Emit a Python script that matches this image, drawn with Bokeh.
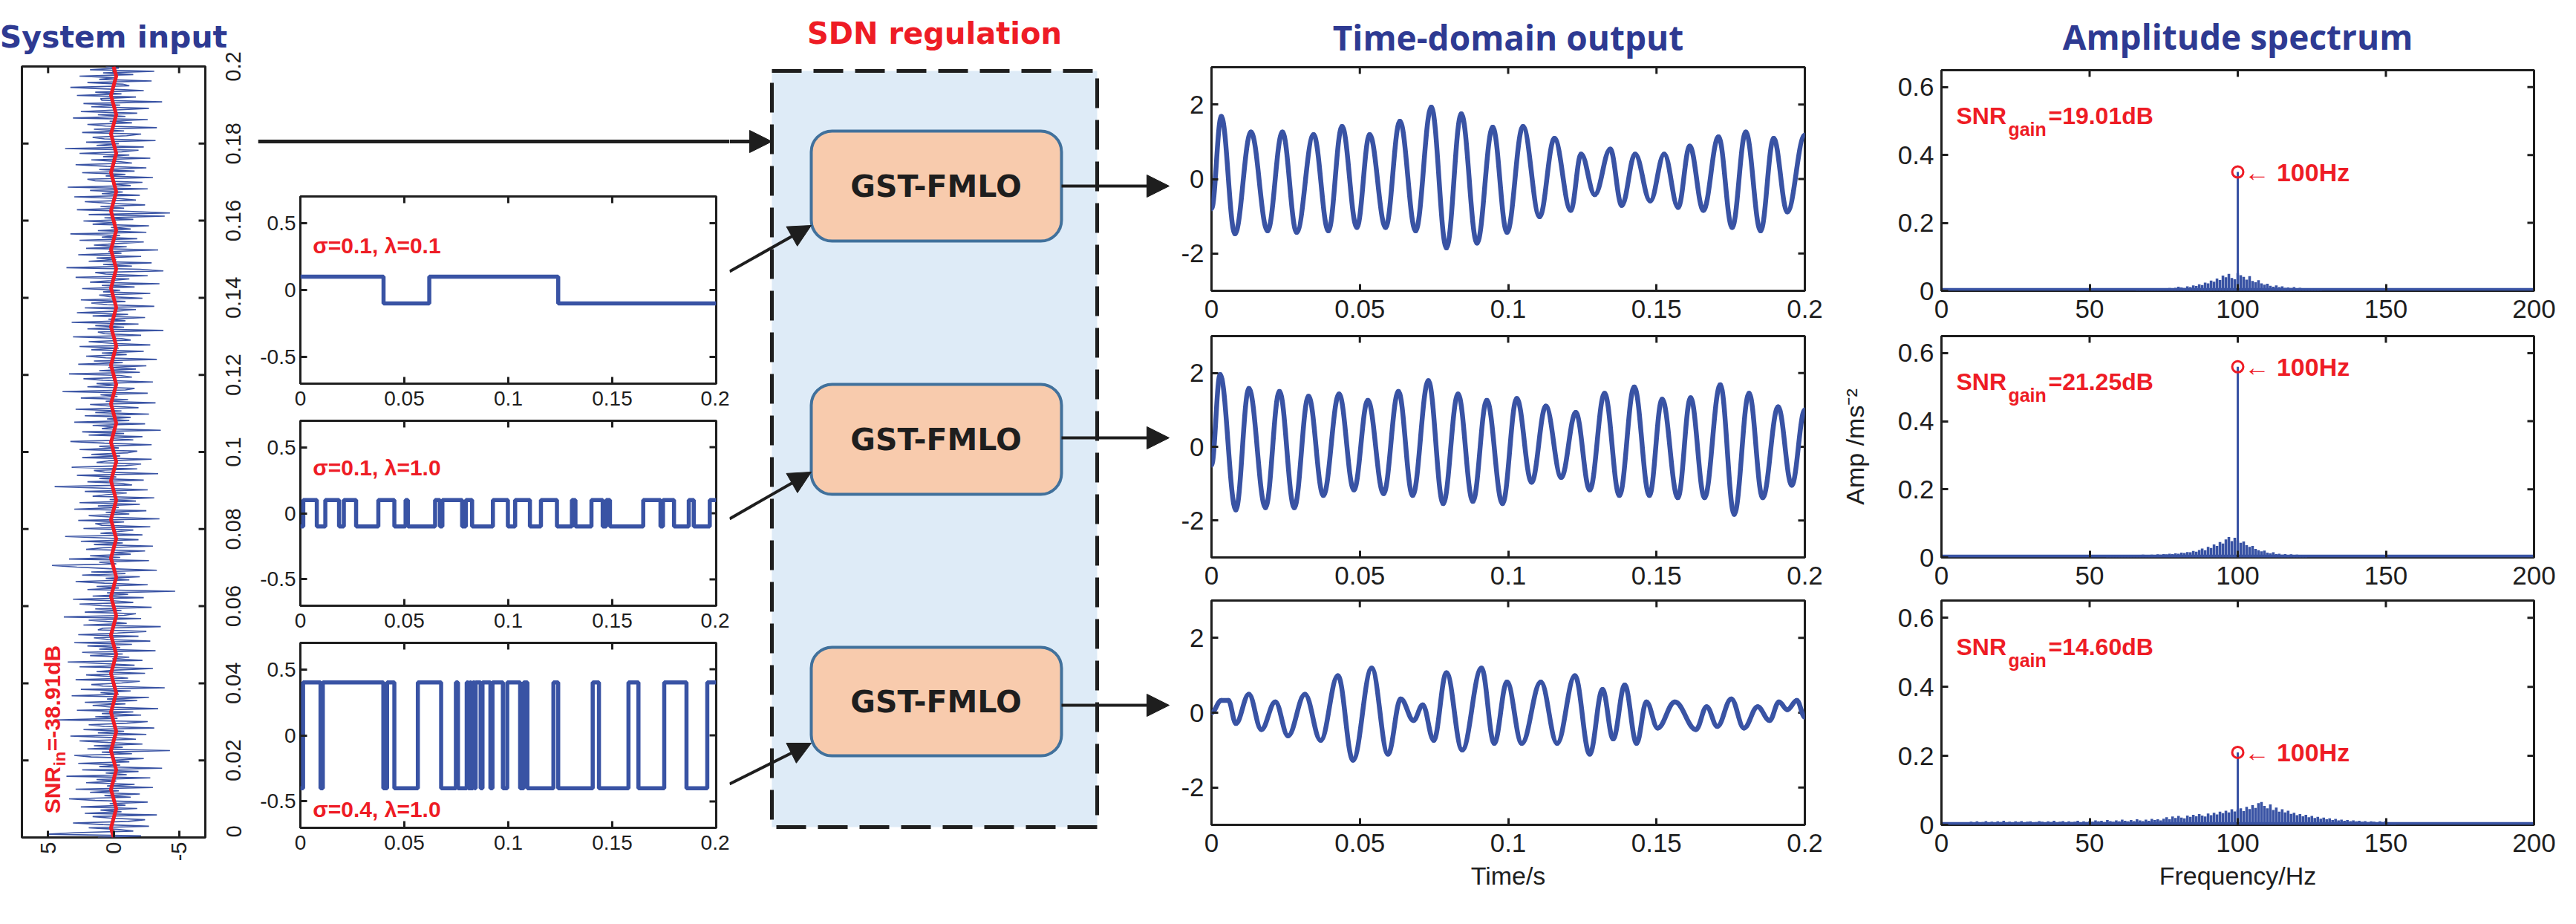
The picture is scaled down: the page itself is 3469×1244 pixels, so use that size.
import numpy as np
from bokeh.plotting import figure
from bokeh.models import Range1d, FixedTicker, PrintfTickFormatter, Arrow, NormalHead
from bokeh.layouts import row, column
from bokeh.embed import file_html
from bokeh.resources import INLINE
from bokeh.core.properties import value

# ---------------------------------------------------------------- data
# System input: noisy measured signal (amplitude samples over 0..0.2 s) and the weak 100 Hz signal
input_noise = [
    1.2, -2.1, 5.1, 2.8, -1.5, -0.3, 1.9, -2.7, 0.8, 3.1, -1.1, -2.4, 0.2, 1.6, -3.3, 2.2, -0.6, 1.0, -1.8, 2.5,
    -0.9, 0.3, -2.6, 1.4, 3.4, -1.3, 0.7, -2.0, 1.8, -0.4, 2.9, -3.0, 0.5, -1.6, 2.1, -0.2, 1.3, -2.8, 3.6, -1.0,
    0.6, -1.9, 2.4, -3.7, 1.1, -0.5, 2.7, -1.2, 0.1, -2.3, 1.7, 3.0, -1.4, 0.9, -4.3, 2.0, -0.7, 1.5, -2.2, 0.4,
    2.6, -1.7, -0.1, 3.3, -2.5, 1.2, -0.8, 2.3, -3.1, 0.7, 1.9, -1.0, -2.6, 4.4, -0.3, 1.4, -2.1, 0.9, -1.5, 2.8,
    -3.4, 0.2, 1.6, -0.9, 2.2, -1.8, 0.5, -2.7, 3.2, -0.4, 1.0, -1.3, 2.5, -3.9, 0.8, 1.7, -0.6, -2.0, 2.9, -1.1,
    0.3, 2.1, -2.4, 1.3, -0.2, -3.0, 2.6, -1.6, 0.6, 3.5, -2.2, 0.1, -1.2, 1.8, -0.7, 2.4, -3.2, 1.1, -0.5, 2.0,
    -1.4, 3.0, -2.8, 0.4, 1.5, -1.9, 2.7, -0.3, -2.5, 1.2, 0.8, -3.6, 2.3, -1.0, 0.2, 1.9, -2.1, 3.8, -0.8, -1.7,
    2.2, -0.6, 1.4, -2.9, 0.9, 2.6, -1.5, -0.1, 3.1, -2.3, 1.6, -1.1, 0.5, -4.7, 2.0, -0.4, 1.3, -2.6, 0.7, 2.9,
    -1.2, 0.6, -2.0, 2.4, -0.9, 1.7, -3.3, 0.3, 2.8, 4.7, -0.2, 1.1, -2.7, 3.4, -0.5, 1.8, -1.3, 0.2, -2.4, 2.1,
    0.8, -3.0, 1.5, -0.7, 2.5, -1.9, 0.4, 3.7, -2.2, 1.0, -0.3, -1.5, 2.3, -2.8, 0.9, 1.4, -0.8, 2.7, -3.5, 0.1,
    1.9, -1.2, 0.6, -2.5, 3.0, -0.4, 1.2, -2.0, 2.6, -1.7, 0.3, -3.1, 1.6, 0.5, -1.0, 2.2, -2.6, 0.8, 4.5, -1.4,
    -0.6, 2.0, -2.3, 1.1, -0.2, 2.8, -3.4, 0.7, 1.5, -1.8, 3.2, -0.9, -2.1, 1.3, 0.4, -2.9, 2.4, -0.5, 1.7, -1.1,
    -1.8, 2.6, -0.4, 1.1, -2.9, 0.7, 3.3, -1.5, 0.2, -2.2, 1.9, -0.8, 2.4, -3.6, 0.9, -0.1, 1.6, -2.4, 3.0, -1.2,
    0.5, -1.3, 2.2, -2.7, 1.4, -0.6, 2.9, -1.9, 0.3, 1.8, -3.2, 0.6, -1.1, 2.5, -0.3, 1.0, -2.6, 3.9, -0.9, -1.6,
    2.0, -0.2, 1.3, -3.0, 0.8, 2.3, -1.4, -0.5, 3.4, -2.0, 1.1, -1.7, 0.4, -2.5, 2.7, -0.7, 1.5, -3.3, 0.6, 2.1,
    -1.0, 0.9, -2.3, 1.7, -0.4, 2.6, -2.8, 0.1, 1.9, -1.3, -0.6, 3.1, -2.1, 0.7, 1.2, -3.8, 2.0, -0.8, 1.4, -1.9,
    3.2, -0.9, 0.4, -2.4, 1.6, -1.1, 2.8, -0.3, -1.7, 2.2, -3.1, 0.5, 1.7, -0.9, 2.5, -2.2, 0.3, 1.1, -2.8, 0.8,
    -0.5, 2.4, -1.6, 0.9, -3.5, 1.8, 0.2, -1.2, 2.9, -2.6, 0.6, 1.4, -3.8, -2.0, 3.6, -1.4, 0.8, -2.9, 1.9, -0.2,
    1.3, -2.1, 2.7, -0.6, 0.4, -3.4, 2.1, -1.0, 1.5, -0.3, -2.3, 2.6, -1.8, 0.9, -0.5, 3.3, -2.5, 1.2, -1.3, 0.2,
    -2.7, 1.6, -0.2, 2.3, -1.5, 0.7, -3.9, 1.9, -4.3, -1.1, 2.8, -0.8, 1.0, -2.4, 0.3, 2.2, -1.7, -0.4, 3.0, -2.0,
    0.9, -0.7, 1.8, -2.6, 3.5, -1.3, 0.1, -2.2, 1.4, 2.0, -3.0, 0.6, -0.9, 2.4, -1.6, 1.1, -2.5, 0.5, 2.9, -1.4,
    -0.3, 1.7, -2.8, 0.8, -1.2, 2.6, -0.6, -1.9, 3.7, -2.3, 1.3, -0.4, 2.1, -3.2, 0.7, 1.6, -1.0, -2.1, 2.4, -0.8,
    1.5, -3.3, 0.6, 2.0, -1.4, 0.3, -2.6, 3.1, -0.9, 1.2, -1.8, 2.5, -0.2, -2.7, 1.7, -0.5, 2.3, -3.7, 0.9, 1.0,
    -1.7, 2.8, -0.6, 1.4, -2.3, 0.4, 3.3, -1.2, -0.7, 2.0, -2.9, 1.1, -0.1, 2.6, -1.5, 0.8, -3.1, 1.8, -0.4, 0.6,
]
input_signal = [
    0.0, 0.2, 0.0, -0.2, 0.0, 0.2, 0.0, -0.2, 0.0, 0.2, 0.0, -0.2, 0.0, 0.2, 0.0, -0.2, 0.0, 0.2, 0.0, -0.2,
    0.0, 0.2, 0.0, -0.2, 0.0, 0.2, 0.0, -0.2, 0.0, 0.2, 0.0, -0.2, 0.0, 0.2, 0.0, -0.2, 0.0, 0.2, 0.0, -0.2,
    0.0, 0.2, 0.0, -0.2, 0.0, 0.2, 0.0, -0.2, 0.0, 0.2, 0.0, -0.2, 0.0, 0.2, 0.0, -0.2, 0.0, 0.2, 0.0, -0.2,
    0.0, 0.2, 0.0, -0.2, 0.0, 0.2, 0.0, -0.2, 0.0, 0.2, 0.0, -0.2, 0.0, 0.2, 0.0, -0.2, 0.0, 0.2, 0.0, -0.2,
    0.0,
]
input_snr = "=-38.91dB"
input_time_ticks = [0, 0.02, 0.04, 0.06, 0.08, 0.1, 0.12, 0.14, 0.16, 0.18, 0.2]
input_amp_ticks = [5, 0, -5]

# SDN regulation: dichotomous switching noise (switch instants and levels)
switch_sigma = ["0.1", "0.1", "0.4"]
switch_lambda = ["0.1", "1.0", "1.0"]
switch_level = [0.1, 0.1, 0.4]
switch_first_sign = [1, -1, -1]
switch_times_1 = [0.040, 0.062, 0.124]
switch_times_2 = [0.0014, 0.0079, 0.0120, 0.0186, 0.0209, 0.0268, 0.0375, 0.0452, 0.0506, 0.0517,
                  0.0648, 0.0671, 0.0683, 0.0778, 0.0796, 0.0826, 0.0926, 0.0998, 0.1033, 0.1104,
                  0.1157, 0.1234, 0.1306, 0.1323, 0.1400, 0.1454, 0.1471, 0.1489, 0.1649, 0.1732,
                  0.1744, 0.1797, 0.1868, 0.1892, 0.1969]
switch_times_3 = [0.0013, 0.0097, 0.0108, 0.0399, 0.0417, 0.0452, 0.0565, 0.0677, 0.0748, 0.0758,
                  0.0800, 0.0808, 0.0815, 0.0822, 0.0830, 0.0838, 0.0843, 0.0867, 0.0876, 0.0914,
                  0.0924, 0.0974, 0.0995, 0.1057, 0.1074, 0.1092, 0.1217, 0.1240, 0.1406, 0.1436,
                  0.1578, 0.1626, 0.1750, 0.1857, 0.1957]
switch_times = [switch_times_1, switch_times_2, switch_times_3]

# Time-domain outputs: extrema (time, value) of each output
out1_t = [0.0, 0.0033, 0.0079, 0.0133, 0.0189, 0.0239, 0.0287, 0.0344, 0.0394, 0.0440, 0.0490, 0.0533,
          0.0587, 0.0635, 0.0688, 0.0741, 0.0792, 0.0842, 0.0895, 0.0948, 0.0996, 0.1050, 0.1106, 0.1156,
          0.1211, 0.1246, 0.1292, 0.1344, 0.1383, 0.1428, 0.1479, 0.1526, 0.1573, 0.1612, 0.1658, 0.1709,
          0.1755, 0.1801, 0.1851, 0.1895, 0.1941, 0.2000]
out1_v = [-0.8, 1.68, -1.47, 1.26, -1.39, 1.26, -1.43, 1.19, -1.39, 1.41, -1.30, 1.19, -1.30, 1.55,
          -1.39, 1.93, -1.85, 1.75, -1.72, 1.39, -1.43, 1.41, -1.01, 1.09, -0.84, 0.67, -0.42, 0.80,
          -0.71, 0.67, -0.59, 0.67, -0.76, 0.88, -0.84, 1.13, -1.30, 1.26, -1.39, 1.09, -0.88, 1.18]
out2_t = [0.0, 0.0029, 0.0082, 0.0126, 0.0182, 0.0229, 0.0279, 0.0327, 0.0377, 0.0430, 0.0480, 0.0527,
          0.0580, 0.0630, 0.0678, 0.0731, 0.0781, 0.0831, 0.0881, 0.0928, 0.0981, 0.1029, 0.1079, 0.1127,
          0.1179, 0.1228, 0.1275, 0.1325, 0.1375, 0.1425, 0.1476, 0.1519, 0.1572, 0.1615, 0.1662, 0.1715,
          0.1762, 0.1812, 0.1858, 0.1910, 0.1956, 0.2000]
out2_v = [-0.5, 1.96, -1.71, 1.58, -1.65, 1.50, -1.65, 1.37, -1.32, 1.43, -1.17, 1.26, -1.27, 1.50,
          -1.32, 1.79, -1.54, 1.43, -1.48, 1.26, -1.54, 1.31, -0.96, 1.10, -0.83, 0.93, -1.17, 1.45,
          -1.32, 1.62, -1.32, 1.29, -1.38, 1.33, -1.38, 1.68, -1.83, 1.45, -1.38, 1.08, -1.04, 1.0]
out3_t = [0.0, 0.0033, 0.0057, 0.0082, 0.0126, 0.0168, 0.0215, 0.0258, 0.0315, 0.0368, 0.0426, 0.0477,
          0.0540, 0.0595, 0.0638, 0.0681, 0.0712, 0.0749, 0.0792, 0.0845, 0.0910, 0.0953, 0.0996, 0.1046,
          0.1110, 0.1165, 0.1225, 0.1275, 0.1318, 0.1354, 0.1393, 0.1433, 0.1466, 0.1504, 0.1562, 0.1633,
          0.1669, 0.1705, 0.1752, 0.1795, 0.1841, 0.1881, 0.1913, 0.1941, 0.1973, 0.2000]
out3_v = [0.0, 0.33, 0.33, -0.29, 0.49, -0.45, 0.29, -0.62, 0.49, -0.74, 0.99, -1.27, 1.19, -1.11,
          0.37, -0.21, 0.21, -0.74, 1.07, -1.00, 1.19, -0.82, 0.82, -0.82, 0.82, -0.82, 0.99, -1.11,
          0.62, -0.70, 0.74, -0.82, 0.29, -0.41, 0.29, -0.45, 0.16, -0.37, 0.37, -0.41, 0.16, -0.21,
          0.29, 0.08, 0.33, -0.12]
out_t = [out1_t, out2_t, out3_t]
out_v = [out1_v, out2_v, out3_v]
time_ticks = [0, 0.05, 0.1, 0.15, 0.2]
switch_yticks = [-0.5, 0, 0.5]
out_yticks = [-2, 0, 2]

# Amplitude spectra: 100 Hz peak, SNR gain and the noise floor (1 Hz bins from a start frequency)
spec_peak_freq = 100
spec_peak = [0.35, 0.56, 0.21]
snr_gain = ["=19.01dB", "=21.25dB", "=14.60dB"]
spec_floor = 0.004
spec1_start = 66
spec1_noise = [0.002, 0.003, 0.004, 0.003, 0.005, 0.004, 0.006, 0.005, 0.004, 0.007,
               0.006, 0.008, 0.007, 0.009, 0.012, 0.010, 0.008, 0.013, 0.011, 0.016,
               0.014, 0.019, 0.017, 0.024, 0.022, 0.030, 0.027, 0.036, 0.032, 0.045,
               0.040, 0.050, 0.038, 0.034, 0.052, 0.046, 0.041, 0.033, 0.043, 0.029,
               0.025, 0.031, 0.022, 0.018, 0.021, 0.015, 0.012, 0.016, 0.011, 0.013,
               0.009, 0.010, 0.008, 0.011, 0.007, 0.009, 0.006, 0.007, 0.005, 0.004,
               0.006, 0.003, 0.002]
spec2_start = 56
spec2_noise = [0.002, 0.003, 0.005, 0.003, 0.004, 0.006, 0.004, 0.005, 0.006, 0.005,
               0.007, 0.006, 0.008, 0.006, 0.007, 0.008, 0.007, 0.009, 0.008, 0.010,
               0.009, 0.011, 0.010, 0.012, 0.011, 0.014, 0.013, 0.016, 0.015, 0.019,
               0.017, 0.022, 0.026, 0.021, 0.031, 0.028, 0.038, 0.034, 0.045, 0.041,
               0.053, 0.060, 0.048, 0.058, 0.050, 0.043, 0.047, 0.036, 0.031, 0.034,
               0.025, 0.021, 0.018, 0.020, 0.014, 0.012, 0.015, 0.010, 0.011, 0.008,
               0.010, 0.007, 0.009, 0.006, 0.008, 0.005, 0.004, 0.003]
spec3_start = 10
spec3_noise = [0.009, 0.006, 0.010, 0.007, 0.008, 0.011, 0.006, 0.009, 0.007, 0.010,
               0.008, 0.012, 0.007, 0.009, 0.006, 0.010, 0.008, 0.011, 0.007, 0.009,
               0.010, 0.006, 0.008, 0.011, 0.009, 0.007, 0.010, 0.008, 0.012, 0.006,
               0.009, 0.011, 0.007, 0.010, 0.008, 0.009, 0.012, 0.007, 0.010, 0.008,
               0.011, 0.009, 0.013, 0.010, 0.012, 0.008, 0.014, 0.011, 0.009, 0.013,
               0.010, 0.015, 0.012, 0.010, 0.014, 0.011, 0.016, 0.013, 0.011, 0.015,
               0.012, 0.017, 0.014, 0.016, 0.013,
               0.018, 0.022, 0.016, 0.024, 0.020, 0.026, 0.021, 0.019, 0.027, 0.023,
               0.029, 0.025, 0.031, 0.027, 0.024, 0.033, 0.028, 0.035, 0.030, 0.038,
               0.034, 0.041, 0.036, 0.045, 0.039, 0.044, 0.048, 0.040, 0.052, 0.046,
               0.057, 0.049, 0.063, 0.066, 0.055, 0.048, 0.059, 0.043, 0.050, 0.038, 0.045,
               0.036, 0.041, 0.032, 0.035, 0.028, 0.031, 0.025, 0.029, 0.022, 0.026,
               0.020, 0.023, 0.018, 0.021, 0.016, 0.019, 0.014, 0.017, 0.013, 0.015,
               0.012, 0.014, 0.011, 0.013, 0.010, 0.012, 0.009, 0.011, 0.008, 0.010,
               0.009, 0.007, 0.010, 0.008, 0.012, 0.006, 0.005, 0.003]
spec_start = [spec1_start, spec2_start, spec3_start]
spec_noise = [spec1_noise, spec2_noise, spec3_noise]
spec_xticks = [0, 50, 100, 150, 200]
spec_yticks = [0, 0.2, 0.4, 0.6]

# ---------------------------------------------------------------- style
BLUE = "#3953A4"
TBLUE = "#2E3A92"
RED = "#EE1C25"
INK = "#1E1E1E"
TICKF = "Liberation Sans"
CHAR_EM = {".": 0.278, "-": 0.333}


def base_fig(w, h, xr, yr, bl, br, bt, bb, **kw):
    p = figure(width=w, height=h, x_range=xr, y_range=yr, toolbar_location=None,
               output_backend="svg", min_border_left=bl, min_border_right=br,
               min_border_top=bt, min_border_bottom=bb, frame_align=False, **kw)
    p.grid.visible = False
    p.background_fill_color = "white"
    p.border_fill_color = "white"
    p.outline_line_color = INK
    p.outline_line_width = 3
    p.outline_line_alpha = 1.0
    return p


def label_axis(ax, ticks, size, standoff, orient=None, draw_ticks=True):
    ax.ticker = FixedTicker(ticks=ticks)
    ax.formatter = PrintfTickFormatter(format="%g")
    ax.axis_line_color = None
    ax.major_tick_in = 9
    ax.major_tick_out = 0
    ax.major_tick_line_width = 3
    ax.major_tick_line_color = INK if draw_ticks else None
    ax.minor_tick_line_color = None
    ax.major_label_text_font = TICKF
    ax.major_label_text_font_size = size
    ax.major_label_text_color = INK
    ax.major_label_standoff = standoff
    if orient is not None:
        ax.major_label_orientation = orient


def edge_ticks(p, xs, y_edge, ys, x_edge):
    # inward tick marks on the top and right edges (half of each dash is clipped by the frame)
    if xs:
        p.scatter(x=xs, y=[y_edge] * len(xs), marker="dash", angle=np.pi / 2, size=18,
                  line_color=INK, line_width=3)
    if ys:
        p.scatter(x=[x_edge] * len(ys), y=ys, marker="dash", size=18, line_color=INK, line_width=3)


def canvas(w, h, x0, x1, y0, y1):
    c = figure(width=w, height=h, x_range=Range1d(x0, x1), y_range=Range1d(y1, y0),
               toolbar_location=None, output_backend="svg", x_axis_location=None,
               y_axis_location=None, min_border=0, frame_align=False)
    c.grid.visible = False
    c.outline_line_color = None
    c.background_fill_color = "white"
    c.border_fill_color = "white"
    return c


# ---------------------------------------------------------------- column A: system input
A = base_fig(347, 1228, Range1d(7, -7), Range1d(0, 0.2), 29, 71, 89, 101,
             y_axis_location="right", title="System input")
A.title.align = "center"
A.title.text_font = "DejaVu Sans"
A.title.text_font_size = "41px"
A.title.text_font_style = "bold"
A.title.text_color = TBLUE
A.title.standoff = 32
label_axis(A.xaxis[0], input_amp_ticks, "29px", 6, np.pi / 2)
# rotated time labels: bokeh anchors them at their start, so shift each anchor by half the label length
A_LABEL_PX = 29
t_per_px = 0.2 / (1135 - 97)
lab_text = ["%g" % t for t in input_time_ticks]
lab_pos = []
for t, s in zip(input_time_ticks, lab_text):
    half = sum(CHAR_EM.get(ch, 0.556) for ch in s) * A_LABEL_PX / 2.0
    lab_pos.append(max(0.0, t - half * t_per_px))
ya = A.yaxis[0]
label_axis(ya, lab_pos, "29px", 38, np.pi / 2, draw_ticks=False)
ya.major_label_overrides = {pos: s for pos, s in zip(lab_pos, lab_text)}
A.scatter(x=[7] * len(input_time_ticks), y=input_time_ticks, marker="dash", size=18, line_color=INK, line_width=3)
edge_ticks(A, input_amp_ticks, 0.2, input_time_ticks, -7)
A.line(x=input_noise, y=np.linspace(0, 0.2, len(input_noise)), line_color=BLUE, line_width=1.6)
A.line(x=input_signal, y=np.linspace(0, 0.2, len(input_signal)), line_color=RED, line_width=5)
A.text(x=[4.68], y=[0.0062], text=["SNR"], angle=np.pi / 2, text_font=value(TICKF),
       text_font_style="bold", text_font_size="30px", text_color=RED, text_baseline="alphabetic")
A.text(x=[4.68], y=[0.0062], text=["in"], angle=np.pi / 2, x_offset=10, y_offset=-64,
       text_font=value(TICKF), text_font_style="bold", text_font_size="22px", text_color=RED,
       text_baseline="alphabetic")
A.text(x=[4.68], y=[0.0062], text=[input_snr], angle=np.pi / 2, y_offset=-84,
       text_font=value(TICKF), text_font_style="bold", text_font_size="30px", text_color=RED,
       text_baseline="alphabetic")

# ---------------------------------------------------------------- column B: switching-noise panels
B0 = canvas(635, 254, 355, 990, 8, 262)
B0.segment(x0=[355], y0=[198], x1=[990], y1=[198], line_color=INK, line_width=5)

b_heights = [306, 299, 369]
b_tops = [10, 6, 6]
b_bottoms = [44, 44, 114]
label_y = [0.335, 0.345, -0.56]
B_panels = []
for i in range(3):
    p = base_fig(635, b_heights[i], Range1d(0, 0.2), Range1d(-0.7, 0.7), 54, 18, b_tops[i], b_bottoms[i])
    label_axis(p.xaxis[0], time_ticks, "28px", 10)
    label_axis(p.yaxis[0], switch_yticks, "28px", 6)
    edge_ticks(p, time_ticks, 0.7, switch_yticks, 0.2)
    times = switch_times[i]
    xs = [0.0] + list(times) + [0.2]
    ys = []
    s = switch_first_sign[i]
    for k in range(len(times) + 1):
        ys.append(s * switch_level[i])
        s = -s
    ys.append(ys[-1])
    p.step(x=xs, y=ys, mode="after", line_color=BLUE, line_width=5.5)
    p.text(x=[0.006], y=[label_y[i]], text=["\u03c3=%s,  \u03bb=%s" % (switch_sigma[i], switch_lambda[i])],
           text_font=value(TICKF), text_font_style="bold", text_font_size="30px", text_color=RED,
           text_baseline="alphabetic")
    B_panels.append(p)

# ---------------------------------------------------------------- column C: SDN regulation diagram
C = canvas(600, 1228, 990, 1590, 8, 1236)
C.text(x=[1266], y=[52], text=["SDN regulation"], text_font=value("DejaVu Sans"), text_font_style="bold",
       text_font_size="40px", text_color=RED, text_align="center", text_baseline="middle")
C.quad(left=[1047], right=[1485], top=[103], bottom=[1121], fill_color="#DEEBF7",
       line_color=INK, line_width=5, line_dash="40 16")
gst_top = [184, 525, 879]
gst_bot = [332, 673, 1025]
C.quad(left=[1100] * 3, right=[1437] * 3, top=gst_top, bottom=gst_bot, fill_color="#F8CBAD",
       line_color="#41719C", line_width=4, border_radius=28)
C.text(x=[1268] * 3, y=[(a + b) / 2 for a, b in zip(gst_top, gst_bot)], text=["GST-FMLO"] * 3,
       text_font=value("DejaVu Sans"), text_font_style="bold", text_font_size="41px",
       text_color=INK, text_align="center", text_baseline="middle")
arrows = [
    (990, 198, 1047, 198, 5),
    (990, 373, 1100, 311, 4), (990, 706, 1100, 643, 4), (990, 1063, 1100, 1008, 4),
    (1437, 258, 1582, 258, 4), (1437, 597, 1582, 597, 4), (1437, 957, 1582, 957, 4),
]
for xs0, ys0, xe, ye, lw in arrows:
    C.add_layout(Arrow(end=NormalHead(size=30, fill_color=INK, line_color=INK), x_start=xs0, y_start=ys0,
                       x_end=xe, y_end=ye, line_color=INK, line_width=lw))

# ---------------------------------------------------------------- columns D and E
d_heights = [447, 355, 426]
d_tops = [90, 5, 6]
d_bottoms = [56, 52, 118]

D_panels = []
for i in range(3):
    kw = {}
    if i == 0:
        kw["title"] = "Time-domain output"
    p = base_fig(880, d_heights[i], Range1d(0, 0.2), Range1d(-3, 3), 49, 32, d_tops[i], d_bottoms[i], **kw)
    xa, ya = p.xaxis[0], p.yaxis[0]
    label_axis(xa, time_ticks, "35px", 12)
    label_axis(ya, out_yticks, "35px", 10)
    edge_ticks(p, time_ticks, 3, out_yticks, 0.2)
    if i == 0:
        p.title.align = "center"
        p.title.text_font = "Open Sans"
        p.title.text_font_size = "46px"
        p.title.text_font_style = "bold"
        p.title.text_color = TBLUE
        p.title.standoff = 20
    if i == 2:
        xa.axis_label = "Time/s"
        xa.axis_label_text_font = TICKF
        xa.axis_label_text_font_size = "34px"
        xa.axis_label_text_font_style = "normal"
        xa.axis_label_text_color = INK
        xa.axis_label_standoff = 10
    t = np.array(out_t[i])
    v = np.array(out_v[i])
    x0, x1, y0, y1 = t[:-1], t[1:], v[:-1], v[1:]
    dx = x1 - x0
    p.bezier(x0=x0, y0=y0, x1=x1, y1=y1, cx0=x0 + 0.38 * dx, cy0=y0, cx1=x1 - 0.38 * dx, cy1=y1,
             line_color=BLUE, line_width=6.5, line_cap="round")
    D_panels.append(p)

E_panels = []
for i in range(3):
    kw = {}
    if i == 0:
        kw["title"] = "Amplitude spectrum"
    p = base_fig(991, d_heights[i], Range1d(0, 200), Range1d(0, 0.65), 152, 41, d_tops[i], d_bottoms[i], **kw)
    xa, ya = p.xaxis[0], p.yaxis[0]
    label_axis(xa, spec_xticks, "35px", 12)
    label_axis(ya, spec_yticks, "35px", 10)
    edge_ticks(p, spec_xticks, 0.65, spec_yticks, 200)
    if i == 0:
        p.title.align = "center"
        p.title.text_font = "Open Sans"
        p.title.text_font_size = "46px"
        p.title.text_font_style = "bold"
        p.title.text_color = TBLUE
        p.title.standoff = 30
    if i == 1:
        ya.axis_label = "Amp /ms\u207b\u00b2"
        ya.axis_label_text_font = TICKF
        ya.axis_label_text_font_size = "34px"
        ya.axis_label_text_font_style = "normal"
        ya.axis_label_text_color = INK
        ya.axis_label_standoff = 36
    if i == 2:
        xa.axis_label = "Frequency/Hz"
        xa.axis_label_text_font = TICKF
        xa.axis_label_text_font_size = "34px"
        xa.axis_label_text_font_style = "normal"
        xa.axis_label_text_color = INK
        xa.axis_label_standoff = 10
    noise = spec_noise[i]
    freqs = [spec_start[i] + k for k in range(len(noise))]
    p.segment(x0=[0], y0=[spec_floor], x1=[200], y1=[spec_floor], line_color=BLUE, line_width=4)
    p.vbar(x=freqs, top=noise, bottom=0, width=0.9, fill_color=BLUE, line_color=None)
    p.segment(x0=[spec_peak_freq], y0=[0], x1=[spec_peak_freq], y1=[spec_peak[i]], line_color=BLUE, line_width=3)
    p.scatter(x=[spec_peak_freq], y=[spec_peak[i]], marker="circle", size=15, fill_color=None,
              line_color=RED, line_width=3)
    p.text(x=[spec_peak_freq], y=[spec_peak[i]], text=["\u2190 100Hz"], x_offset=9, text_font=value(TICKF),
           text_font_style="bold", text_font_size="34px", text_color=RED, text_baseline="middle")
    p.text(x=[5], y=[0.515], text=["SNR"], text_font=value(TICKF), text_font_style="bold",
           text_font_size="32px", text_color=RED, text_baseline="alphabetic")
    p.text(x=[5], y=[0.515], text=["gain"], x_offset=70, y_offset=18, text_font=value(TICKF),
           text_font_style="bold", text_font_size="25px", text_color=RED, text_baseline="alphabetic")
    p.text(x=[5], y=[0.515], text=[snr_gain[i]], x_offset=124, text_font=value(TICKF),
           text_font_style="bold", text_font_size="32px", text_color=RED, text_baseline="alphabetic")
    E_panels.append(p)

layout = row(A, column(B0, *B_panels), C, column(*D_panels), column(*E_panels))

open("out.html", "w").write(file_html(layout, INLINE, title="SDN regulation"))
